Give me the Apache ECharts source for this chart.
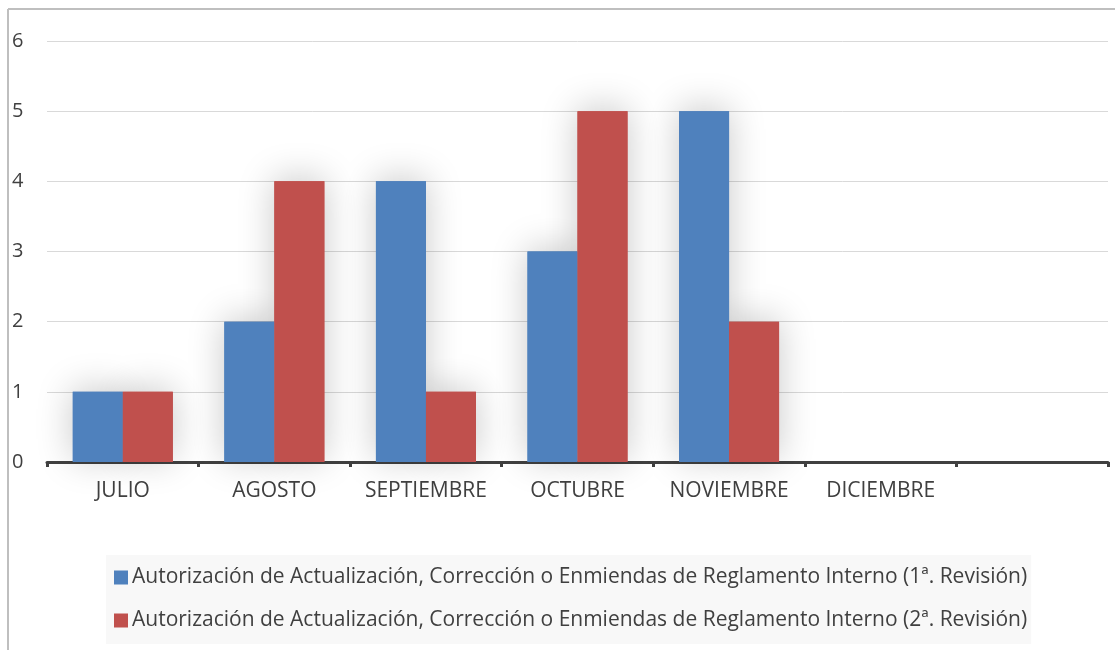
<!DOCTYPE html>
<html>
<head>
<meta charset="utf-8">
<script src="https://cdn.jsdelivr.net/npm/echarts@6/dist/echarts.min.js"></script>
<style>
  html, body { margin: 0; padding: 0; background: #fff; }
  #chart { width: 1115px; height: 650px; }
</style>
</head>
<body>
<div id="chart"></div>
<script>
// meses (la última casilla queda vacía, como en el original)
var meses = ['JULIO', 'AGOSTO', 'SEPTIEMBRE', 'OCTUBRE', 'NOVIEMBRE', 'DICIEMBRE', ''];
var serieNombres = [
  'Autorización de Actualización, Corrección o Enmiendas de Reglamento Interno (1ª. Revisión)',
  'Autorización de Actualización, Corrección o Enmiendas de Reglamento Interno (2ª. Revisión)'
];
var revision1 = [1, 2, 4, 3, 5, 0, null];
var revision2 = [1, 4, 1, 5, 2, 0, null];
var colores = ['#4f81bd', '#c0504d'];

var fuente = 'Open Sans';
var myChart = echarts.init(document.getElementById('chart'));

// capa de sombras en un eje x oculto, debajo de las barras
function capaSombra(datos, color) {
  return {
    type: 'bar',
    xAxisIndex: 1,
    data: datos,
    barWidth: 50,
    barGap: '0%',
    z: 1,
    silent: true,
    itemStyle: {
      color: color,
      shadowColor: 'rgba(0,0,0,0.22)',
      shadowBlur: 36,
      shadowOffsetY: -3
    }
  };
}

myChart.setOption({
  animation: false,
  textStyle: { fontFamily: fuente },
  grid: { left: 47, right: 7, top: 41, bottom: 188 },
  graphic: [
    { type: 'line', shape: { x1: 8, y1: 9, x2: 8, y2: 650 }, style: { stroke: '#bfbfbf', lineWidth: 2 } },
    { type: 'line', shape: { x1: 8, y1: 9, x2: 1115, y2: 9 }, style: { stroke: '#bfbfbf', lineWidth: 2 } }
  ],
  legend: {
    orient: 'vertical',
    left: 106,
    top: 555,
    padding: [12, 4, 13, 8],
    backgroundColor: '#f8f8f8',
    itemWidth: 14,
    itemHeight: 14,
    itemGap: 22,
    icon: 'rect',
    data: serieNombres,
    textStyle: { fontSize: 21, color: '#404040', fontFamily: fuente, padding: [0, 0, 0, -1] }
  },
  xAxis: [
    {
      type: 'category',
      data: meses,
      boundaryGap: true,
      axisLine: { lineStyle: { color: '#404040', width: 3 } },
      axisTick: { show: true, interval: 0, length: 5, lineStyle: { color: '#404040', width: 3 } },
      axisLabel: { interval: 0, margin: 19, fontSize: 21, color: '#404040' }
    },
    {
      type: 'category',
      data: meses,
      boundaryGap: true,
      position: 'bottom',
      show: false
    }
  ],
  yAxis: {
    type: 'value',
    min: 0,
    max: 6,
    interval: 1,
    axisLine: { show: false },
    axisTick: { show: false },
    axisLabel: { align: 'left', margin: 35, fontSize: 20, color: '#404040' },
    splitLine: { lineStyle: { color: '#d9d9d9', width: 1 } }
  },
  series: [
    capaSombra(revision1, colores[0]),
    capaSombra(revision2, colores[1]),
    {
      name: serieNombres[0],
      type: 'bar',
      data: revision1,
      barWidth: 50,
      barGap: '0%',
      z: 3,
      itemStyle: { color: colores[0] }
    },
    {
      name: serieNombres[1],
      type: 'bar',
      data: revision2,
      barWidth: 50,
      barGap: '0%',
      z: 3,
      itemStyle: { color: colores[1] }
    }
  ]
});
</script>
</body>
</html>
